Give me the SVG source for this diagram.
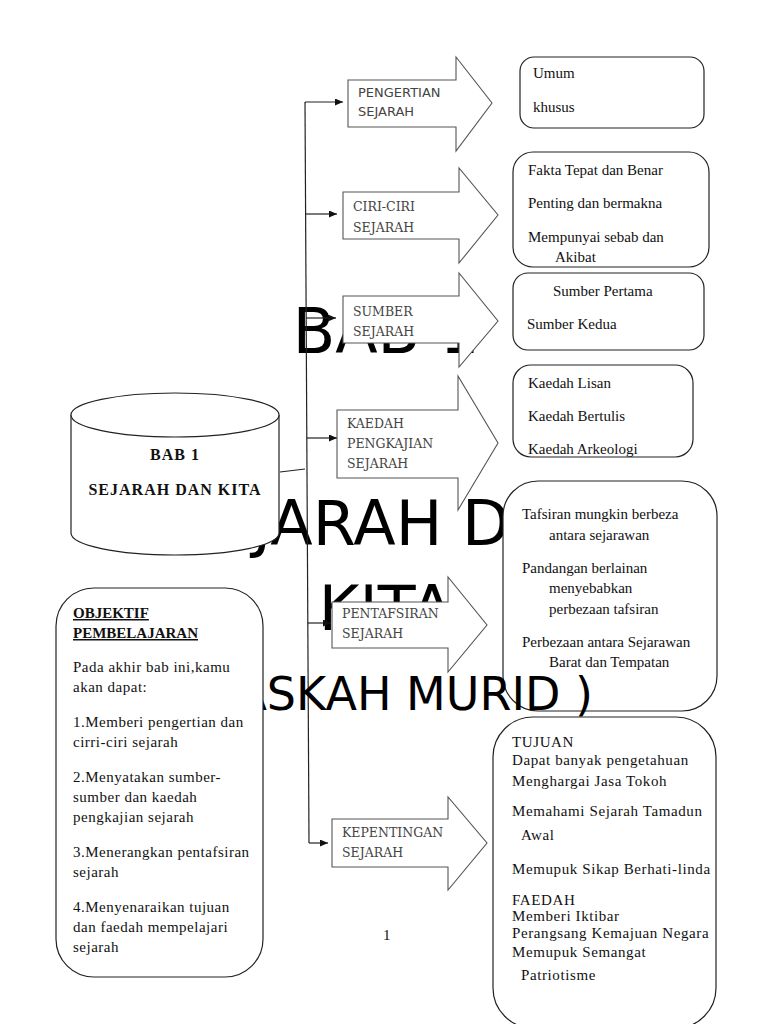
<svg xmlns="http://www.w3.org/2000/svg" width="768" height="1024" viewBox="0 0 768 1024">
<defs>
<marker id="ah" markerWidth="9" markerHeight="8" refX="8" refY="3.5" orient="auto" markerUnits="userSpaceOnUse">
<path d="M0,0 L8,3.5 L0,7 Z" fill="#111"/>
</marker>
<style>
.title{font-family:"DejaVu Sans","Liberation Sans",sans-serif;font-size:62px;fill:#000;text-anchor:middle}
.sub{font-size:46px}
.conn{fill:none;stroke:#222;stroke-width:1.2}
.arrow{fill:#fff;stroke:#555;stroke-width:1.1}
.albl{font-family:"DejaVu Serif","Liberation Serif",serif;font-size:12.5px;fill:#444}
.albs{font-family:"DejaVu Sans","Liberation Sans",sans-serif;font-size:13px;fill:#444}
.box{fill:#fff;stroke:#222;stroke-width:1.2}
.t{font-family:"Liberation Serif","Times New Roman",serif;font-size:15px;fill:#111}
.obj{letter-spacing:0.5px}
.tj{letter-spacing:0.6px}
.b{font-weight:bold}
.u{text-decoration:underline}
.cyl{font-family:"Liberation Serif","Times New Roman",serif;font-size:16px;font-weight:bold;fill:#111;text-anchor:middle;letter-spacing:1px}
</style>
</defs>
<rect width="768" height="1024" fill="#fff"/>

<g id="title">
<text class="title" x="386" y="353">BAB 1</text>
<text class="title" x="386" y="545">SEJARAH DAN</text>
<text class="title" x="386" y="630">KITA</text>
</g>

<g id="connectors">
<path class="conn" d="M305,102 L309,843"/>
<path class="conn" d="M280,472 L305,469"/>
<line class="conn" x1="305" y1="102" x2="343" y2="102" marker-end="url(#ah)"/>
<line class="conn" x1="306" y1="214" x2="337" y2="214" marker-end="url(#ah)"/>
<line class="conn" x1="306" y1="318" x2="336" y2="318" marker-end="url(#ah)"/>
<line class="conn" x1="307" y1="438" x2="337" y2="438" marker-end="url(#ah)"/>
<line class="conn" x1="308" y1="623" x2="331" y2="623" marker-end="url(#ah)"/>
<line class="conn" x1="309" y1="843" x2="328" y2="843" marker-end="url(#ah)"/>
</g>

<g id="cylinder">
<path class="box" d="M71,415 A104,22 0 0 1 279,415 V533 A104,22 0 0 1 71,533 Z"/>
<path class="box" fill="none" d="M71,415 A104,22 0 0 0 279,415"/>
<text class="cyl" x="175" y="460">BAB 1</text>
<text class="cyl" x="175" y="495">SEJARAH DAN KITA</text>
</g>

<g id="arrow-pengertian">
<path class="arrow" d="M348,80 H456 V57 L492,103 L456,151 V127 H348 Z"/>
<text class="albs" x="358" y="97">PENGERTIAN</text>
<text class="albs" x="358" y="116">SEJARAH</text>
</g>
<g id="arrow-ciri">
<path class="arrow" d="M343,192 H459 V168 L498,215 L459,263 V239 H343 Z"/>
<text class="albl" x="353" y="211">CIRI-CIRI</text>
<text class="albl" x="353" y="232">SEJARAH</text>
</g>
<g id="arrow-sumber">
<path class="arrow" d="M343,296 H459 V273 L498,321 L459,367 V343 H343 Z"/>
<text class="albl" x="353" y="316">SUMBER</text>
<text class="albl" x="353" y="336">SEJARAH</text>
</g>
<g id="arrow-kaedah">
<path class="arrow" d="M337,410 H458 V376 L498,443 L458,510 V478 H337 Z"/>
<text class="albl" x="347" y="428">KAEDAH</text>
<text class="albl" x="347" y="448">PENGKAJIAN</text>
<text class="albl" x="347" y="468">SEJARAH</text>
</g>
<g id="arrow-pentafsiran">
<path class="arrow" d="M332,602 H448 V577 L487,625 L448,672 V648 H332 Z"/>
<text class="albl" x="342" y="618">PENTAFSIRAN</text>
<text class="albl" x="342" y="638">SEJARAH</text>
</g>
<g id="arrow-kepentingan">
<path class="arrow" d="M332,819 H448 V797 L487,843 L448,890 V867 H332 Z"/>
<text class="albl" x="342" y="837">KEPENTINGAN</text>
<text class="albl" x="342" y="857">SEJARAH</text>
</g>

<g id="box-pengertian">
<rect class="box" x="520" y="57" width="184" height="71" rx="14"/>
<text class="t" x="533" y="78">Umum</text>
<text class="t" x="533" y="112">khusus</text>
</g>
<g id="box-ciri">
<rect class="box" x="513" y="152" width="196" height="115" rx="20"/>
<text class="t" x="528" y="175">Fakta Tepat dan Benar</text>
<text class="t" x="528" y="208">Penting dan bermakna</text>
<text class="t" x="528" y="242">Mempunyai sebab dan</text>
<text class="t" x="555" y="262">Akibat</text>
</g>
<g id="box-sumber">
<rect class="box" x="513" y="273" width="191" height="77" rx="15"/>
<text class="t" x="553" y="296">Sumber Pertama</text>
<text class="t" x="527" y="329">Sumber Kedua</text>
</g>
<g id="box-kaedah">
<rect class="box" x="513" y="365" width="180" height="92" rx="18"/>
<text class="t" x="528" y="388">Kaedah Lisan</text>
<text class="t" x="528" y="421">Kaedah Bertulis</text>
<text class="t" x="528" y="454">Kaedah Arkeologi</text>
</g>
<g id="box-pentafsiran">
<rect class="box" x="503" y="481" width="214" height="230" rx="35"/>
<text class="t" x="522" y="519">Tafsiran mungkin berbeza</text>
<text class="t" x="549" y="540">antara sejarawan</text>
<text class="t" x="522" y="573">Pandangan berlainan</text>
<text class="t" x="549" y="593">menyebabkan</text>
<text class="t" x="549" y="614">perbezaan tafsiran</text>
<text class="t" x="522" y="647">Perbezaan antara Sejarawan</text>
<text class="t" x="549" y="667">Barat dan Tempatan</text>
</g>

<g id="subtitle">
<text class="title sub" x="388" y="710">(NASKAH MURID )</text>
</g>

<g id="box-objektif">
<rect class="box" x="56" y="588" width="207" height="389" rx="38"/>
<text class="t b u" x="73" y="618">OBJEKTIF</text>
<text class="t b u" x="73" y="638">PEMBELAJARAN</text>
<text class="t obj" x="73" y="672">Pada akhir bab ini,kamu</text>
<text class="t obj" x="73" y="692">akan dapat:</text>
<text class="t obj" x="73" y="727">1.Memberi pengertian dan</text>
<text class="t obj" x="73" y="747">cirri-ciri sejarah</text>
<text class="t obj" x="73" y="782">2.Menyatakan sumber-</text>
<text class="t obj" x="73" y="802">sumber dan kaedah</text>
<text class="t obj" x="73" y="822">pengkajian sejarah</text>
<text class="t obj" x="73" y="857">3.Menerangkan pentafsiran</text>
<text class="t obj" x="73" y="877">sejarah</text>
<text class="t obj" x="73" y="912">4.Menyenaraikan tujuan</text>
<text class="t obj" x="73" y="932">dan faedah mempelajari</text>
<text class="t obj" x="73" y="952">sejarah</text>
</g>

<g id="box-kepentingan">
<rect class="box" x="493" y="717" width="223" height="311" rx="40"/>
<text class="t tj" x="512" y="747">TUJUAN</text>
<text class="t tj" x="512" y="765">Dapat banyak pengetahuan</text>
<text class="t tj" x="512" y="786">Menghargai Jasa Tokoh</text>
<text class="t tj" x="512" y="816">Memahami Sejarah Tamadun</text>
<text class="t tj" x="521" y="840">Awal</text>
<text class="t tj" x="512" y="874">Memupuk Sikap Berhati-linda</text>
<text class="t tj" x="512" y="905">FAEDAH</text>
<text class="t tj" x="512" y="921">Memberi Iktibar</text>
<text class="t tj" x="512" y="938">Perangsang Kemajuan Negara</text>
<text class="t tj" x="512" y="957">Memupuk Semangat</text>
<text class="t tj" x="521" y="980">Patriotisme</text>
</g>

<g id="page-number">
<text class="t" x="383" y="940" font-size="13">1</text>
</g>
</svg>
